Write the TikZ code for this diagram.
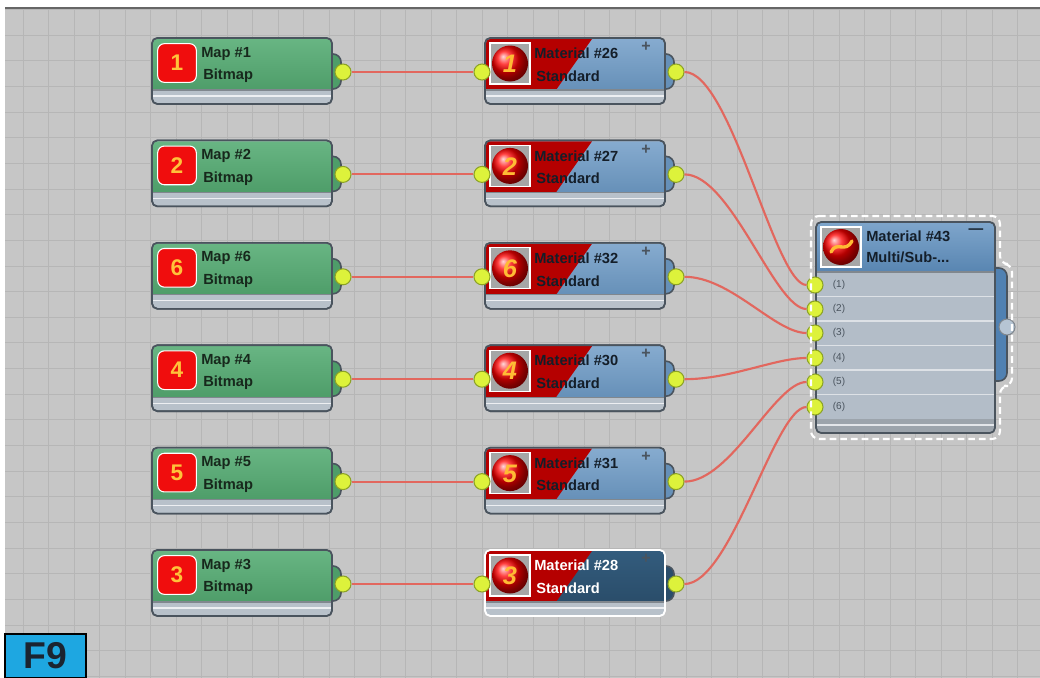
\documentclass[tikz,border=0pt]{standalone}
\usepackage{fontspec}
\setmainfont{Liberation Sans}
\usetikzlibrary{calc}

\definecolor{canvasgrey}{HTML}{C6C6C6}
\definecolor{gridgrey}{HTML}{B6B6B6}
\definecolor{mapgreen}{HTML}{68B583}
\definecolor{mapgreendk}{HTML}{4E9D69}
\definecolor{matblue}{HTML}{86ABCF}
\definecolor{matbluedk}{HTML}{6690B8}
\definecolor{selblue}{HTML}{335C7D}
\definecolor{selbluedk}{HTML}{2A4D6A}
\definecolor{multitop}{HTML}{7EA5CB}
\definecolor{multibot}{HTML}{5885B1}
\definecolor{multitab}{HTML}{5081B2}
\definecolor{matred}{HTML}{B50000}
\definecolor{nodeedge}{HTML}{4A545E}
\definecolor{footgrey}{HTML}{B8C1CA}
\definecolor{rowgrey}{HTML}{B3BDC8}
\definecolor{portfill}{HTML}{DDF23B}
\definecolor{portedge}{HTML}{8DA326}
\definecolor{outport}{HTML}{B6C5D4}
\definecolor{wirered}{HTML}{E2675E}
\definecolor{badgered}{HTML}{F00D0D}
\definecolor{badgenum}{HTML}{FFC23A}
\definecolor{maptext}{HTML}{17281C}
\definecolor{mattext}{HTML}{141E29}
\definecolor{fkeyblue}{HTML}{1EA7E1}
\definecolor{fkeytext}{HTML}{1B2430}

\tikzset{
  gridline/.style={gridgrey, line width=0.7pt},
  nodeframe/.style={draw=nodeedge, line width=1.2pt, rounded corners=4pt},
  port/.style={circle, draw=portedge, fill=portfill, line width=0.8pt, minimum size=12pt, inner sep=0pt},
  wire/.style={wirered, line width=1.6pt},
  badge/.style={rectangle, rounded corners=5pt, fill=badgered, draw=white, line width=0.8pt,
    minimum width=29pt, minimum height=29pt, inner sep=0pt, text=badgenum,
    font=\bfseries\fontsize{17}{17}\selectfont},
  nodetext/.style={anchor=west, inner sep=0pt, font=\bfseries\fontsize{11}{12}\selectfont},
  ballnum/.style={inner sep=0pt, text=badgenum!90!orange, font=\bfseries\itshape\fontsize{19}{19}\selectfont},
  rowlabel/.style={inner sep=0pt, text=nodeedge, font=\fontsize{7.5}{8}\selectfont},
  fkey/.style={draw=black, fill=fkeyblue, line width=1.2pt, minimum width=60.75pt, minimum height=33pt,
    inner sep=0pt, text=fkeytext, font=\bfseries\fontsize{28}{28}\selectfont},
}

\begin{document}
\begin{tikzpicture}[x=0.75pt, y=-0.75pt]
  \useasboundingbox (0,0) rectangle (1040,678);
  % editor canvas
  \fill[white] (0,0) rectangle (1040,678);
  \fill[canvasgrey] (5,8) rectangle (1040,678);
  \foreach \k in {0,...,39} \draw[gridline] ({23+25.5*\k},8) -- ({23+25.5*\k},678);
  \foreach \k in {0,...,26} \draw[gridline] (5,{9.5+25.65*\k}) -- (1040,{9.5+25.65*\k});
  \draw[black!60, line width=1.2pt] (5,8) -- (1040,8);

  % bitmap -> standard material rows
  \foreach \r/\n/\m/\hd/\hl/\tx/\ed in {0/1/26/matblue/matbluedk/mattext/nodeedge,
      1/2/27/matblue/matbluedk/mattext/nodeedge, 2/6/32/matblue/matbluedk/mattext/nodeedge,
      3/4/30/matblue/matbluedk/mattext/nodeedge, 4/5/31/matblue/matbluedk/mattext/nodeedge,
      5/3/28/selblue/selbluedk/white/white}{
    \pgfmathsetmacro{\y}{38+102.4*\r}
    % map node
    \draw[nodeframe, fill=mapgreendk, rounded corners=6pt] (324,\y+16) rectangle (341,\y+51);
    \draw[nodeframe, fill=footgrey] (152,\y) rectangle (332,\y+66);
    \shade[top color=mapgreen, bottom color=mapgreendk, rounded corners=3pt]
      (153,\y+52) -- (153,\y+1) -- (331,\y+1) [sharp corners] -- (331,\y+52) -- cycle;
    \draw[nodeedge!70, line width=0.8pt] (153,\y+52) -- (331,\y+52);
    \draw[white!75!footgrey, line width=0.8pt] (153,\y+58) -- (331,\y+58);
    \draw[nodeframe] (152,\y) rectangle (332,\y+66);
    \node[badge] (badge\n) at (177,\y+25) {\n};
    \node[nodetext, text=maptext] (mapname\n) at (201,\y+15.5) {Map \#\n};
    \node[nodetext, text=maptext] (maptype\n) at (203,\y+38) {Bitmap};
    \node[port] (mapout\n) at (343,\y+34) {};
    % material node
    \draw[nodeframe, fill=\hl, rounded corners=6pt] (657,\y+16) rectangle (674,\y+51);
    \draw[nodeframe, draw=\ed, fill=footgrey] (485,\y) rectangle (665,\y+66);
    \shade[top color=\hd, bottom color=\hl, rounded corners=3pt]
      (486,\y+52) -- (486,\y+1) -- (664,\y+1) [sharp corners] -- (664,\y+52) -- cycle;
    \fill[matred, rounded corners=3pt] (486,\y+52) -- (486,\y+1) [sharp corners] -- (592,\y+1) -- (556,\y+52) -- cycle;
    \draw[nodeedge!70, line width=0.8pt] (486,\y+52) -- (664,\y+52);
    \draw[white!75!footgrey, line width=0.8pt] (486,\y+58) -- (664,\y+58);
    \draw[nodeframe, draw=\ed] (485,\y) rectangle (665,\y+66);
    \draw[white, line width=1pt, fill=gray!70] (490,\y+5) rectangle (530,\y+46);
    \shade[ball color=red] (510,\y+25.5) circle (18);
    \node[ballnum] (ballnum\m) at (510,\y+26) {\n};
    \node[nodetext, text=\tx] (matname\m) at (534,\y+15.5) {Material \#\m};
    \node[nodetext, text=\tx] (mattype\m) at (536,\y+38) {Standard};
    \node[inner sep=0pt, text=nodeedge, font=\bfseries\fontsize{12}{12}\selectfont] (matplus\m) at (646,\y+9) {+};
    \node[port] (matin\m) at (482,\y+34) {};
    \node[port] (matout\m) at (676,\y+34) {};
    \draw[wire] (mapout\n) -- (matin\m);
  }

  % multi/sub-object material
  \draw[nodeframe, fill=multitab, rounded corners=6pt] (988,268) rectangle (1007,381);
  \draw[nodeframe, fill=rowgrey] (816,222) rectangle (995,433);
  \shade[top color=multitop, bottom color=multibot, rounded corners=3pt]
    (817,272) -- (817,223) -- (994,223) [sharp corners] -- (994,272) -- cycle;
  \draw[nodeedge!70, line width=0.8pt] (817,272) -- (994,272);
  \foreach \s in {296.5,321,345.5,370,394.5} \draw[white!55!rowgrey, line width=0.8pt] (817,\s) -- (994,\s);
  \fill[footgrey!85!black] (817,419) rectangle (994,432);
  \draw[white!60!footgrey, line width=0.8pt] (817,425) -- (994,425);
  \draw[nodeframe] (816,222) rectangle (995,433);
  \draw[white, line width=1pt, fill=gray!70] (821,227) rectangle (861,267);
  \shade[ball color=red] (841,247) circle (18);
  \draw[badgenum!90!orange, line width=2.5pt, line cap=round] (831,252) .. controls (837,240) and (845,254) .. (852,241);
  \node[nodetext, text=mattext] (multiname) at (866,236) {Material \#43};
  \node[nodetext, text=mattext] (multitype) at (866,257) {Multi/Sub-...};
  \node[inner sep=0pt, text=mattext, font=\bfseries\fontsize{11}{11}\selectfont] (multiminus) at (976,231) {---};
  \foreach \k/\yy in {1/285,2/309,3/333,4/358,5/382,6/407}{
    \node[rowlabel] (slot\k) at (839,\yy) {(\k)};
    \node[port] (multiin\k) at (815,\yy) {};
  }
  \node[port, fill=outport, draw=nodeedge!70] (multiout) at (1007,327) {};
  % selection outline
  \draw[white, line width=1.6pt, dash pattern=on 5pt off 3pt, rounded corners=6pt]
    (811,216) -- (1000,216) -- (1000,264) -- (1012,264) -- (1012,386) -- (1000,386)
    -- (1000,439) -- (811,439) -- cycle;

  % material outputs into the sub-material slots
  \foreach \m/\k in {26/1,27/2,32/3,30/4,31/5,28/6}
    \draw[wire] (matout\m) .. controls +(55,0) and +(-40,0) .. (multiin\k);

  % shortcut key tag
  \node[fkey] (fkeytag) at (45.5,656) {F9};
\end{tikzpicture}
\end{document}
